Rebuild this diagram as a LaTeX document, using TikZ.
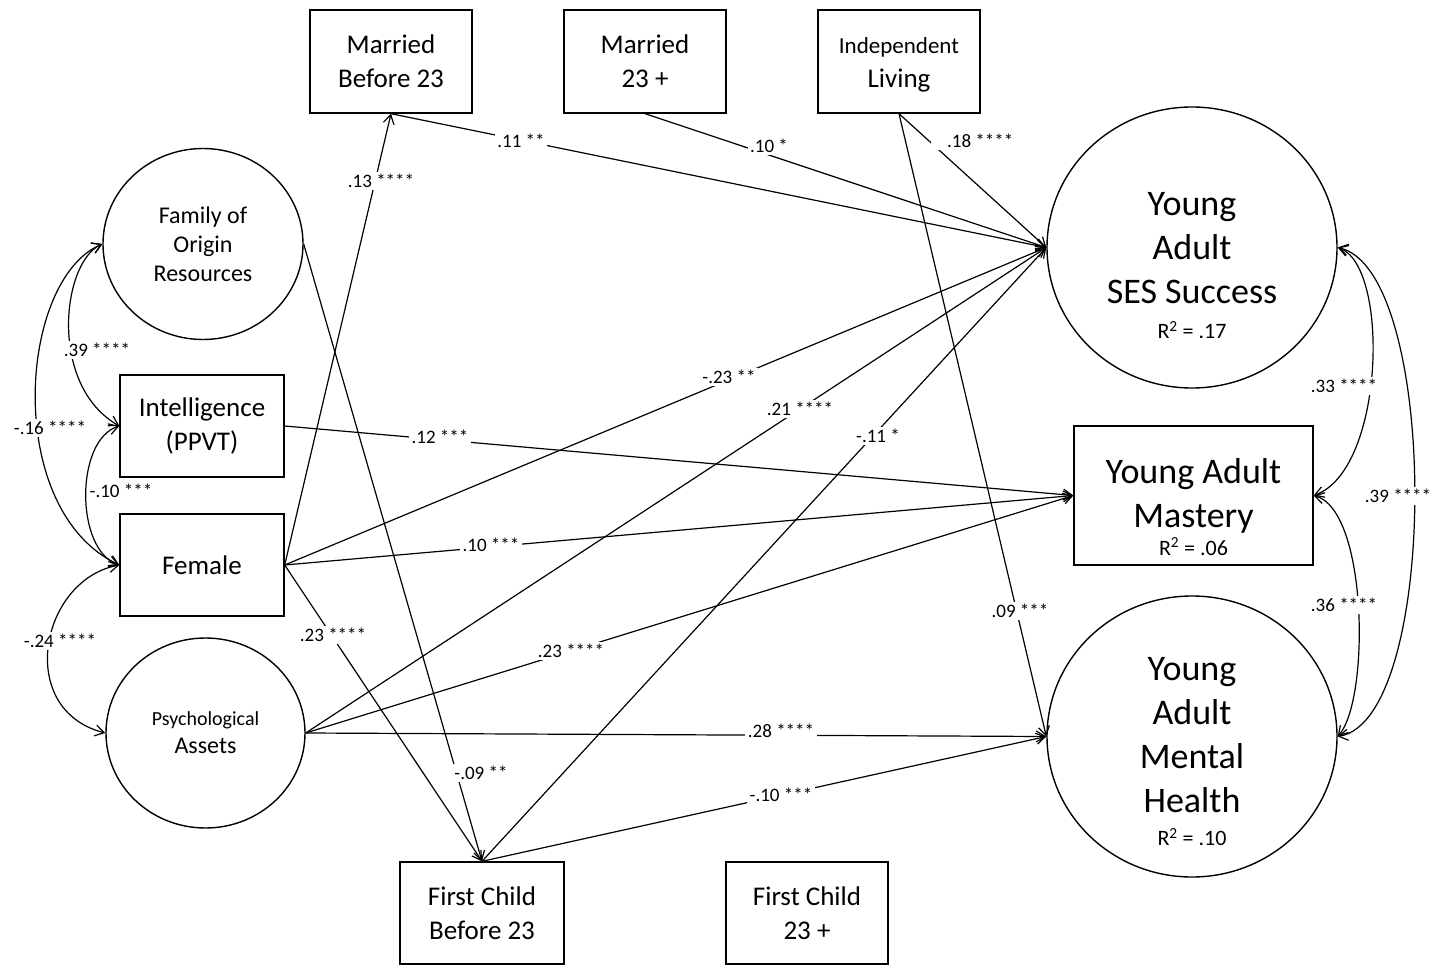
\documentclass[tikz,border=0pt]{standalone}
\usepackage{fontspec}
\setmainfont{Carlito}
\usetikzlibrary{arrows.meta,shapes.geometric}
\begin{document}
\begin{tikzpicture}[x=1pt,y=-1pt,
  box/.style={draw, line width=1.4pt, inner sep=0pt, align=center},
  oval/.style={draw, ellipse, line width=1.4pt, inner sep=0pt, align=center},
  txt/.style={inner sep=0pt, align=center},
  eff/.style={line width=1.2pt, -{Straight Barb[length=9pt,width=11pt]}},
  cov/.style={line width=1.2pt, {Straight Barb[length=9pt,width=11pt]}-{Straight Barb[length=9pt,width=11pt]}},
  lbl/.style={fill=white, inner sep=2.5pt, font=\fontsize{19}{21}\selectfont},
  mid/.style={font=\fontsize{27}{34}\selectfont},
  big/.style={font=\fontsize{36}{44}\selectfont}
]
\useasboundingbox (0,0) rectangle (1431,965);

% boxes
\node[box, mid, minimum width=162pt, minimum height=103pt] (mb) at (391,61.5) {Married\\Before 23};
\node[box, mid, minimum width=162pt, minimum height=103pt] (m23) at (645,61.5) {Married\\23 +};
\node[box, minimum width=162pt, minimum height=103pt] (il) at (899,61.5) {};
\node[txt, mid] (iltext) at (899,65) {{\fontsize{23}{27}\selectfont Independent}\\Living};
\node[box, mid, minimum width=164pt, minimum height=102pt] (int) at (202,426) {Intelligence\\(PPVT)};
\node[box, mid, minimum width=164pt, minimum height=102pt] (fem) at (202,565) {Female};
\node[box, mid, minimum width=164pt, minimum height=102pt] (fc1) at (482,913) {First Child\\Before 23};
\node[box, mid, minimum width=162pt, minimum height=102pt] (fc2) at (807,913) {First Child\\23 +};
\node[box, minimum width=239pt, minimum height=139pt] (mas) at (1193.5,495.5) {};
\node[txt, big] (mastext) at (1193.5,507) {Young Adult\\Mastery\\[-16pt]{\fontsize{22}{24}\selectfont R\textsuperscript{2} = .06}};

% ovals
\node[oval, font=\fontsize{24}{29}\selectfont, minimum width=200pt, minimum height=191pt] (fam) at (203,244) {Family of\\Origin\\Resources};
\node[oval, font=\fontsize{24}{28}\selectfont, minimum width=199pt, minimum height=190pt] (psy) at (205.5,733) {{\fontsize{20}{24}\selectfont Psychological}\\Assets};
\node[oval, minimum width=290pt, minimum height=281pt] (ses) at (1192,247.5) {};
\node[txt, big] (sestext) at (1192,266) {Young\\Adult\\SES Success\\[-9pt]{\fontsize{22}{24}\selectfont R\textsuperscript{2} = .17}};
\node[oval, minimum width=290pt, minimum height=281pt] (mh) at (1192,736.5) {};
\node[txt, big] (mhtext) at (1192,752) {Young\\Adult\\Mental\\Health\\[-11pt]{\fontsize{22}{24}\selectfont R\textsuperscript{2} = .10}};

% structural paths
\draw[eff] (fem.east) -- (mb.south);
\draw[eff] (mb.south) -- (ses.west);
\draw[eff] (m23.south) -- (ses.west);
\draw[eff] (il.south) -- (ses.west);
\draw[eff] (fem.east) -- (ses.west);
\draw[eff] (psy.east) -- (ses.west);
\draw[eff] (fc1.north) -- (ses.west);
\draw[eff] (int.east) -- (mas.west);
\draw[eff] (fem.east) -- (mas.west);
\draw[eff] (psy.east) -- (mas.west);
\draw[eff] (fem.east) -- (fc1.north);
\draw[eff] (fam.east) -- (fc1.north);
\draw[eff] (psy.east) -- (mh.west);
\draw[eff] (fc1.north) -- (mh.west);
\draw[eff] (il.south) -- (mh.west);

% covariances
\draw[cov] (fam.west) .. controls (62,262) and (48,385) .. (int.west);
\draw[cov] (fam.west) .. controls (18,280) and (3,510) .. (fem.west);
\draw[cov] (int.west) .. controls (75,440) and (75,550) .. (fem.west);
\draw[cov] (fem.west) .. controls (40,580) and (15,710) .. (psy.west);
\draw[cov] (ses.east) .. controls (1390,265) and (1385,470) .. (mas.east);
\draw[cov] (mas.east) .. controls (1368,510) and (1370,700) .. (mh.east);
\draw[cov] (ses.east) .. controls (1440,270) and (1440,720) .. (mh.east);

% labels
\node[lbl] (l1) at (381,181) {.13 ****};
\node[lbl] (l2) at (521,141) {.11 **};
\node[lbl] (l3) at (769,146) {.10 *};
\node[lbl, anchor=east] (l4) at (1016,141) {\hspace*{14pt}.18 ****};
\node[lbl] (l5) at (729,377) {-.23 **};
\node[lbl] (l6) at (800,409) {.21 ****};
\node[lbl] (l7) at (878,436) {-.11 *};
\node[lbl] (l8) at (440,437) {.12 ***};
\node[lbl] (l9) at (491,545) {.10 ***};
\node[lbl] (l10) at (571,651) {.23 ****};
\node[lbl] (l11) at (333,635) {.23 ****};
\node[lbl] (l12) at (781,731) {.28 ****};
\node[lbl] (l13) at (781,795) {-.10 ***};
\node[lbl] (l14) at (1020,611) {.09 ***};
\node[lbl] (l15) at (481,773) {-.09 **};
\node[lbl] (l16) at (97,350) {.39 ****};
\node[lbl] (l17) at (50,428) {-.16 ****};
\node[lbl] (l18) at (121,491) {-.10 ***};
\node[lbl] (l19) at (60,641) {-.24 ****};
\node[lbl] (l20) at (1344,386) {.33 ****};
\node[lbl] (l21) at (1398,496) {.39 ****};
\node[lbl] (l22) at (1344,605) {.36 ****};
\end{tikzpicture}
\end{document}
